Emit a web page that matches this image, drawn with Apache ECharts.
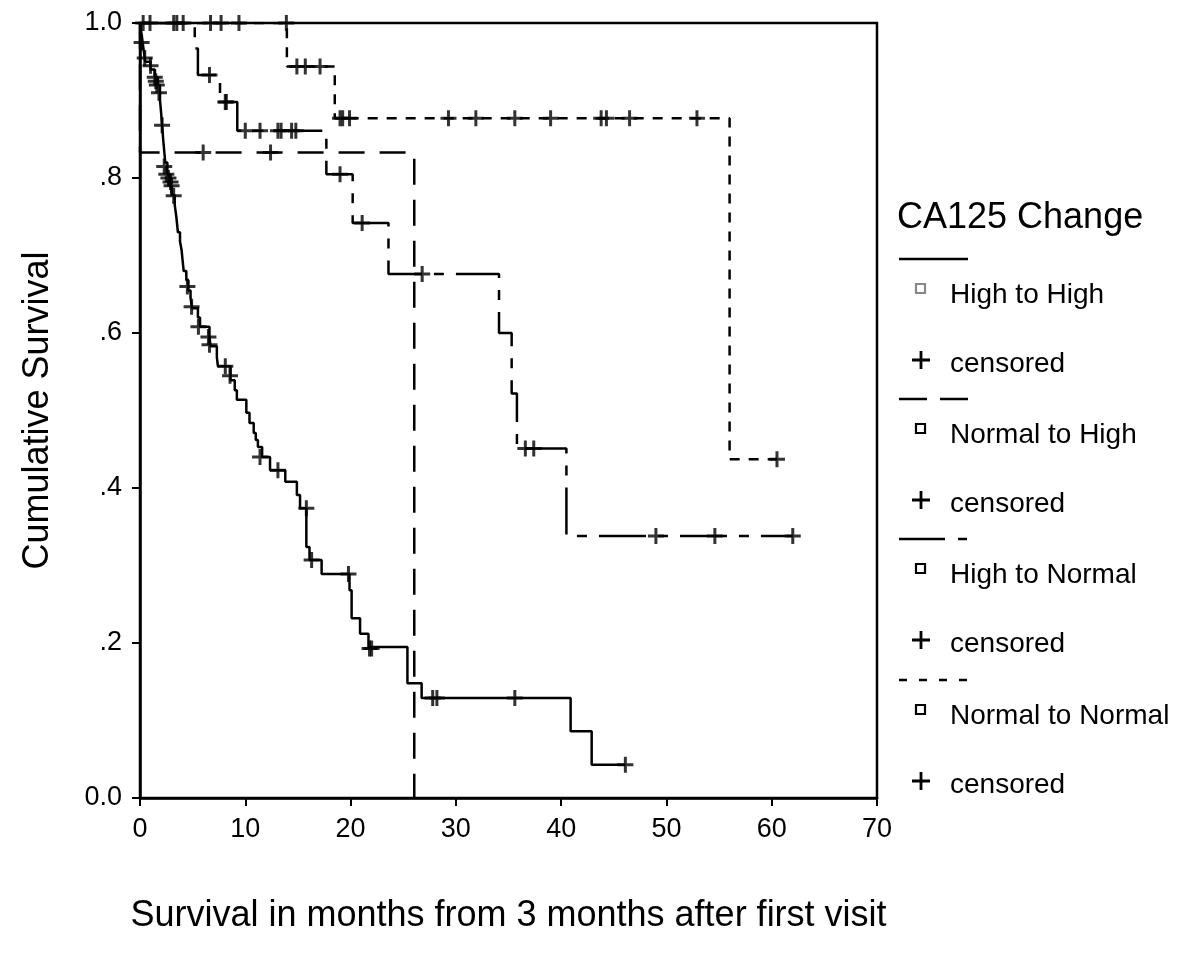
<!DOCTYPE html>
<html><head><meta charset="utf-8">
<script src="https://cdn.jsdelivr.net/npm/echarts@6/dist/echarts.min.js"></script>
<style>html,body{margin:0;padding:0;background:#fff}#c{width:1200px;height:957px}</style>
</head><body><div id="c"></div>
<script>
// ---- Data ----
const xTickMax = 70;
const yTickLabels = ['0.0', '.2', '.4', '.6', '.8', '1.0'];
const groupNames = ['High to High', 'Normal to High', 'High to Normal', 'Normal to Normal'];
const legendTitle = 'CA125 Change';
const censorLabel = 'censored';
const xTitle = 'Survival in months from 3 months after first visit';
const yTitle = 'Cumulative Survival';

// High to High: step times and survival after each step
const hhTime = [0, 0.1, 0.2, 0.35, 0.5, 1.0, 1.4, 1.7, 1.9, 2.0, 2.1, 2.2, 2.3, 2.4, 2.6, 2.8, 3.0, 3.3, 3.45, 3.6, 3.8, 3.95, 4.05, 4.15, 4.4, 4.6, 4.8, 4.95, 5.5, 5.7, 6.6, 6.7, 7.3, 7.4, 8.6, 9.0, 9.2, 10.1, 10.4, 10.8, 11.0, 11.2, 11.6, 12.35, 13.8, 14.9, 15.2, 15.8, 16.1, 17.25, 19.9, 20.1, 20.9, 21.7, 25.4, 26.75, 40.9, 42.9, 46.1];
const hhSurv = [1.0, 0.99, 0.98, 0.965, 0.95, 0.94, 0.93, 0.92, 0.90, 0.885, 0.868, 0.85, 0.835, 0.82, 0.805, 0.79, 0.778, 0.765, 0.75, 0.73, 0.718, 0.707, 0.693, 0.68, 0.668, 0.655, 0.645, 0.632, 0.62, 0.608, 0.595, 0.583, 0.569, 0.557, 0.539, 0.526, 0.514, 0.497, 0.484, 0.471, 0.462, 0.453, 0.44, 0.423, 0.408, 0.391, 0.374, 0.324, 0.307, 0.289, 0.268, 0.232, 0.212, 0.195, 0.148, 0.129, 0.086, 0.043, 0.043];
const hhCensTime = [0.15, 0.45, 1.0, 1.4, 1.5, 1.6, 1.8, 2.1, 2.3, 2.5, 2.7, 2.9, 3.0, 3.2, 4.5, 4.9, 5.55, 6.5, 6.6, 8.1, 8.55, 11.4, 13.1, 15.8, 16.3, 19.8, 21.8, 22.0, 27.8, 28.2, 35.6, 46.1];
const hhCensSurv = [0.975, 0.955, 0.945, 0.93, 0.925, 0.92, 0.91, 0.868, 0.815, 0.805, 0.8, 0.795, 0.79, 0.777, 0.66, 0.634, 0.608, 0.595, 0.585, 0.557, 0.545, 0.44, 0.423, 0.374, 0.307, 0.289, 0.193, 0.193, 0.129, 0.129, 0.129, 0.043];

// Normal to High
const nhTime = [0, 0, 26.05];
const nhSurv = [1.0, 0.833, 0];
const nhCensTime = [6.0, 12.4];
const nhCensSurv = [0.833, 0.833];

// High to Normal
const hnTime = [0, 5.2, 5.5, 7.6, 9.24, 17.7, 20.2, 23.6, 34.1, 35.3, 35.8, 40.5, 62.0];
const hnSurv = [1.0, 0.967, 0.933, 0.898, 0.861, 0.805, 0.742, 0.676, 0.600, 0.522, 0.451, 0.338, 0.338];
const hnCensTime = [6.6, 8.1, 8.2, 10.0, 11.4, 13.1, 13.4, 14.4, 14.8, 19.0, 21.1, 26.8, 36.6, 37.4, 49.0, 54.6, 62.0];
const hnCensSurv = [0.933, 0.898, 0.898, 0.861, 0.861, 0.861, 0.861, 0.861, 0.861, 0.805, 0.742, 0.676, 0.451, 0.451, 0.338, 0.338, 0.338];

// Normal to Normal
const nnTime = [0, 13.95, 18.5, 56.0, 60.5];
const nnSurv = [1.0, 0.944, 0.877, 0.437, 0.437];
const nnCensTime = [0.3, 0.95, 3.2, 3.5, 4.1, 6.7, 7.7, 9.4, 13.9, 14.9, 15.7, 17.1, 19.0, 19.25, 19.9, 29.3, 31.9, 35.6, 39.0, 43.8, 44.3, 46.5, 52.9, 60.5];
const nnCensSurv = [1, 1, 1, 1, 1, 1, 1, 1, 1, 0.944, 0.944, 0.944, 0.877, 0.877, 0.877, 0.877, 0.877, 0.877, 0.877, 0.877, 0.877, 0.877, 0.877, 0.437];

// ---- Build chart ----
const zip = (a, b) => a.map((v, i) => [v, b[i]]);
const FONT = '"Liberation Sans", Arial, sans-serif';
const PLUS = 'path://M-1.5,-8H1.5V-1.5H8V1.5H1.5V8H-1.5V1.5H-8V-1.5H-1.5Z';
const dashes = ['solid', [26, 15], [47, 12, 10, 12], [10, 9]];
const lines = [zip(hhTime, hhSurv), zip(nhTime, nhSurv), zip(hnTime, hnSurv), zip(nnTime, nnSurv)];
const cens = [zip(hhCensTime, hhCensSurv), zip(nhCensTime, nhCensSurv), zip(hnCensTime, hnCensSurv), zip(nnCensTime, nnCensSurv)];

const series = [];
groupNames.forEach((name, i) => {
  series.push({
    name: name, type: 'line', step: 'end', data: lines[i],
    showSymbol: false, symbol: 'none', silent: true, z: 3,
    lineStyle: { color: '#000', width: 2.5, type: dashes[i], cap: 'butt' }
  });
  series.push({
    name: name + ' censored', type: 'scatter', data: cens[i],
    symbol: PLUS, symbolSize: 16, symbolKeepAspect: true, silent: true, z: 4,
    itemStyle: { color: '#000' }
  });
});

// Legend graphics
function plusPoints(cx, cy, a, t) {
  return [[cx - t, cy - a], [cx + t, cy - a], [cx + t, cy - t], [cx + a, cy - t], [cx + a, cy + t], [cx + t, cy + t],
          [cx + t, cy + a], [cx - t, cy + a], [cx - t, cy + t], [cx - a, cy + t], [cx - a, cy - t], [cx - t, cy - t]];
}
const graphics = [];
const lx = 899, tx = 950;
graphics.push({ type: 'text', x: 897, y: 218, style: { text: legendTitle, font: '36px ' + FONT, fill: '#000', verticalAlign: 'middle' } });
const bases = [259, 399, 539, 680];
const legendDash = ['solid', [28, 13], [46, 13, 9, 13], [8, 12]];
groupNames.forEach((name, i) => {
  const b = bases[i];
  const ls = { stroke: '#000', lineWidth: 2.5 };
  if (i > 0) ls.lineDash = legendDash[i];
  graphics.push({ type: 'line', shape: { x1: lx, y1: b, x2: lx + 69, y2: b }, style: ls });
  graphics.push({ type: 'rect', shape: { x: 916, y: b + 25, width: 9, height: 9 },
    style: { fill: '#fff', stroke: i === 0 ? '#888' : '#000', lineWidth: 2.2 } });
  graphics.push({ type: 'text', x: tx, y: b + 36, style: { text: name, font: '28px ' + FONT, fill: '#000', verticalAlign: 'middle' } });
  graphics.push({ type: 'polygon', shape: { points: plusPoints(921, b + 101, 9, 1.4) }, style: { fill: '#000' } });
  graphics.push({ type: 'text', x: tx, y: b + 105, style: { text: censorLabel, font: '28px ' + FONT, fill: '#000', verticalAlign: 'middle' } });
});

const chart = echarts.init(document.getElementById('c'), null, { renderer: 'canvas' });
chart.setOption({
  animation: false,
  backgroundColor: '#fff',
  grid: { left: 140, top: 23, right: 323, bottom: 159, show: true, borderColor: '#000', borderWidth: 2.5, backgroundColor: 'transparent' },
  xAxis: {
    type: 'value', min: 0, max: xTickMax, interval: 10,
    name: xTitle, nameLocation: 'middle', nameGap: 100,
    nameTextStyle: { fontFamily: FONT, fontSize: 36, color: '#000' },
    axisLine: { show: true, lineStyle: { color: '#000', width: 2.5 } },
    axisTick: { show: true, length: 8, lineStyle: { color: '#000', width: 2 } },
    axisLabel: { fontFamily: FONT, fontSize: 27, color: '#000', margin: 18 },
    splitLine: { show: false }
  },
  yAxis: {
    type: 'value', min: 0, max: 1, interval: 0.2,
    name: yTitle, nameLocation: 'middle', nameGap: 84,
    nameTextStyle: { fontFamily: FONT, fontSize: 36, color: '#000' },
    axisLine: { show: true, lineStyle: { color: '#000', width: 2.5 } },
    axisTick: { show: true, length: 8, lineStyle: { color: '#000', width: 2 } },
    axisLabel: { fontFamily: FONT, fontSize: 27, color: '#000', margin: 18,
      formatter: v => yTickLabels[Math.round(v / 0.2)] },
    splitLine: { show: false }
  },
  series: series,
  graphic: graphics
});
</script></body></html>
